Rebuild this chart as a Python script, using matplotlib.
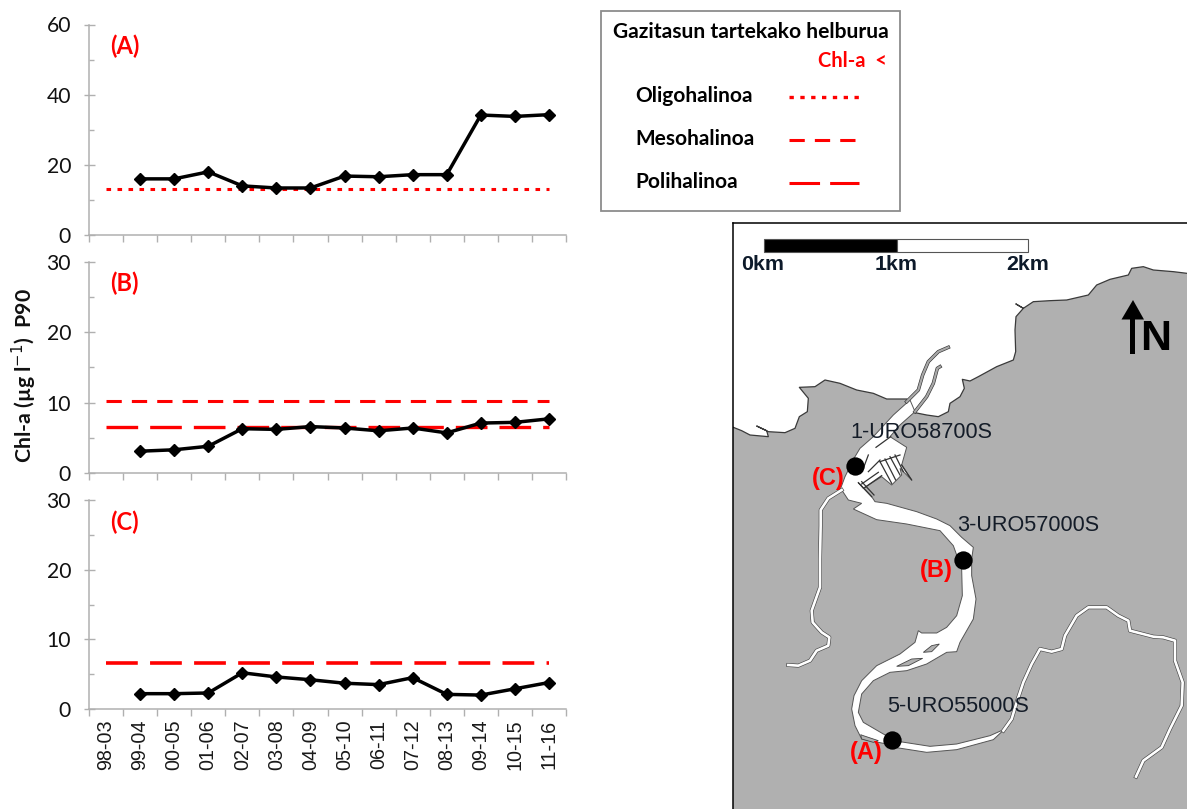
import numpy as np
import matplotlib
matplotlib.use("Agg")
import matplotlib.pyplot as plt
from matplotlib.patches import Polygon, Rectangle
from matplotlib.ticker import MultipleLocator
import matplotlib.patheffects as pe

W, H = 1187, 809
periods = ['98-03','99-04','00-05','01-06','02-07','03-08','04-09','05-10','06-11','07-12','08-13','09-14','10-15','11-16']
series_a = [np.nan,16,16,18,14,13.4,13.4,16.8,16.6,17.2,17.2,34.2,33.8,34.3]
series_b = [np.nan,3.1,3.3,3.8,6.3,6.2,6.6,6.4,6.0,6.4,5.7,7.1,7.2,7.7]
series_c = [np.nan,2.2,2.2,2.3,5.2,4.6,4.2,3.7,3.5,4.5,2.1,2.0,2.9,3.8]
oligo_limit = 13.2
meso_limit = 10.2
poli_limit = 6.6

# Map outlines (local grids, see z1 / z2 / z6)
coast_east = [(1371,160),(1330,155),(1270,150),(1240,140),(1205,145),(1195,165),(1140,178),(1100,195),(1075,225),
              (1010,240),(960,242),(910,245),(880,265),(858,252),(880,265),(858,290),(855,330),(857,395),(850,420),(800,440),
              (745,470),(720,483),(697,478),(703,505),(690,530),(660,550),(655,575),(625,590),(590,585),(555,578)]
coast_west = [(530,537),(470,537),(430,520),(380,510),(330,490),(285,480),(255,500),(208,502),(235,535),(232,575),
              (208,590),(195,625),(165,638),(115,635),(80,618),(110,632),(115,650),(60,645),(35,632),(10,622)]
bank_east_z2 = [(620,30),(660,50),(695,85),(730,115),(725,150),(725,200),(738,270),(730,330),(690,400),(680,428),(650,430),(590,465),
                (530,485),(480,490),(430,515),(395,555),(385,610),(400,640),(460,675),(510,698),(600,712),(680,705),(780,680),(825,660),
                (835,650),(790,692),(680,722),(590,730),(500,716),(460,703),(395,690),(375,650),(365,600),(372,560),(395,515),
                (440,470),(510,435),(555,400),(565,365),(575,372),(620,372),(650,355),(680,320),(697,260),(695,180),(670,110),
                (630,65),(530,45),(440,32),(370,0)]
est_top_z6 = [(330,180),(345,215),(300,255),(270,290),(320,322),(305,375),(335,420),(300,385),(305,405),(275,435),(245,410),
              (190,445),(175,428),(215,470),(225,485),(260,490),(350,515)]
est_west_z6 = [(185,490),(145,480),(122,445),(135,410),(165,350),(180,325),(220,290),(280,225)]
pier_lines_z6 = [[(185,432),(235,397)],[(195,442),(245,407)],[(205,395),(240,360)],[(205,345),(190,385)],
                 [(240,365),(275,430)],[(255,357),(287,420)],[(270,350),(300,405)],[(285,345),(310,395)],
                 [(240,365),(300,345)],[(175,428),(215,470)],[(185,425),(222,465)],[(228,322),(272,290)],[(305,375),(335,420)]]
river_main_z2 = [(820,665),(845,630),(860,580),(880,520),(905,465),(930,420),(965,428),(995,420),(1005,380),(1040,320),(1075,295),
                 (1130,295),(1165,320),(1195,335),(1200,365),(1270,383),(1300,385),(1335,395),(1335,455),(1358,520),(1355,590),
                 (1320,660),(1295,715),(1240,755),(1218,803)]
trib_z1 = [(335,810),(295,835),(272,870)]
trib_z2 = [(272,50),(270,150),(270,235),(245,305),(248,340),(275,370),(298,385),(295,410),(260,425),(240,455),(205,470),(175,468)]
jetty_a_z1 = [(530,545),(565,510),(578,465),(595,425),(625,395),(655,382)]
jetty_b_z1 = [(555,575),(590,530),(610,490),(622,445),(630,440)]
islands_z2 = [[(500,472),(545,450),(578,448),(535,470)],[(580,430),(605,410),(628,405),(605,428)],
              [(392,677),(400,680),(445,695),(430,700),(395,690)]]

def z1(p):
    a = np.array(p, float); return np.c_[730 + a[:,0]/3, 220 + a[:,1]/3]
def z2(p):
    a = np.array(p, float); return np.c_[730 + a[:,0]/3, 509 + a[:,1]/3]
def z6(p):
    a = np.array(p, float); return np.c_[800 + a[:,0]/3, 340 + a[:,1]/3]

plt.rcParams['font.family'] = ['Lato', 'DejaVu Sans']
fig = plt.figure(figsize=(W/100, H/100), dpi=100, facecolor='white')
px = 0.72
GREY = '#b0b0b0'
RED = '#ff0000'

def panel(top, bottom, ymax, major, minor, values, limits, tag, tag_y, show_x=False):
    ax = fig.add_axes([89/W, 1-bottom/H, (566-89)/W, (bottom-top)/H])
    x = np.arange(len(periods))
    for val, ls in limits:
        ax.plot(x, [val]*len(x), color=RED, lw=ls[0], ls=ls[1], dash_capstyle='butt', zorder=2)
    ax.plot(x, values, color='black', lw=2.5, marker='D', ms=6.2, zorder=3)
    ax.set_xlim(-0.5, len(periods)-0.5)
    ax.set_ylim(0, ymax)
    ax.yaxis.set_major_locator(MultipleLocator(major))
    ax.yaxis.set_minor_locator(MultipleLocator(minor))
    ax.set_xticks(np.arange(len(periods)+1)-0.5)
    ax.set_xticklabels([])
    for s in ['top','right']:
        ax.spines[s].set_visible(False)
    for s in ['left','bottom']:
        ax.spines[s].set_color(GREY); ax.spines[s].set_linewidth(1.1)
    ax.tick_params(axis='y', which='major', direction='inout', length=11*px, width=1, color=GREY, labelsize=15.2, pad=9, labelcolor='#111111')
    ax.tick_params(axis='y', which='minor', direction='in', length=4.5*px, width=1, color=GREY)
    ax.tick_params(axis='x', which='major', direction='out', length=7*px, width=1, color=GREY)
    ax.patch.set_alpha(0)
    if show_x:
        for i, lab in enumerate(periods):
            ax.annotate(lab, (i, 0), xytext=(0, -7.5), textcoords='offset points', rotation=90, ha='center', va='top',
                        fontsize=14.2, family='Liberation Sans', color='#1a1a1a', annotation_clip=False)
    ax.text(110/W, 1-tag_y/H, tag, transform=fig.transFigure, color=RED, fontweight='bold', fontsize=17, va='center', ha='left')
    return ax

panel(24.5, 235, 60, 20, 10, series_a, [(oligo_limit, (2.2, (0,(1.5,2.1))))], '(A)', 46)
panel(262, 473, 30, 10, 5, series_b, [(meso_limit, (2.2, (0,(5,3.3)))), (poli_limit, (2.4, (0,(9.5,3.6))))], '(B)', 283)
panel(500, 709, 30, 10, 5, series_c, [(poli_limit, (2.6, (0,(8.8,3.4))))], '(C)', 522, show_x=True)

fig.text(24/W, 1-376/H, 'Chl-a (µg l$^{-1}$)  P90', rotation=90, ha='center', va='center', fontsize=15.3, fontweight='bold', color='#111111')

# Overlay in picture coordinates: legend box
ov = fig.add_axes([0,0,1,1]); ov.set_xlim(0,W); ov.set_ylim(H,0); ov.axis('off'); ov.patch.set_alpha(0)
ov.add_patch(Rectangle((600.5,11), 299.5, 199.5, fc='white', ec='#8c8c8c', lw=1.3))
ov.text(751, 32, 'Gazitasun tartekako helburua', ha='center', va='center', fontsize=15.1, fontweight='bold', color='black')
ov.text(887, 60.5, 'Chl-a  <', ha='right', va='center', fontsize=14.5, fontweight='bold', color=RED)
for y, lab, lsty, lw in [(96,'Oligohalinoa',(0,(1.3,1.95)),2.4),(139,'Mesohalinoa',(0,(5,3.3)),2.2),(182,'Polihalinoa',(0,(10,3.3)),2.2)]:
    ov.text(635.5, y, lab, ha='left', va='center', fontsize=15, fontweight='bold', color='black')
    ov.plot([789,859],[y+1,y+1], color=RED, lw=lw, ls=lsty, dash_capstyle='butt')

# Map
m = fig.add_axes([733/W, 0, (W-733)/W, (H-222.5)/H])
m.set_xlim(733, W); m.set_ylim(H, 222.5); m.set_facecolor('#b0b0b0')
m.set_xticks([]); m.set_yticks([])
for s in ['right','bottom']:
    m.spines[s].set_visible(False)
for s in ['left','top']:
    m.spines[s].set_color('black'); m.spines[s].set_linewidth(1.1)
EDGE = '#3a3a3a'
ce, cw = z1(coast_east), z1(coast_west)
sea = np.vstack([[(W+2,220),(W+2,ce[0][1])], ce, cw, [(731,cw[-1][1]),(731,220)]])
m.add_patch(Polygon(sea, fc='white', ec='none', zorder=1))
m.plot(*ce.T, color=EDGE, lw=0.9, zorder=2); m.plot(*cw.T, color=EDGE, lw=0.9, zorder=2)
est = np.vstack([z6(est_top_z6), z2(bank_east_z2), z6(est_west_z6)])
m.add_patch(Polygon(est, fc='white', ec='#555555', lw=0.7, zorder=3))
for p in pier_lines_z6:
    m.plot(*z6(p).T, color='#333333', lw=0.9, zorder=3.2)
for isl in islands_z2:
    m.add_patch(Polygon(z2(isl), fc='#b0b0b0', ec='#444444', lw=0.6, zorder=3.3))
for path, wid in [(z2(river_main_z2),1.9),(np.vstack([z1(trib_z1), z2(trib_z2)]),1.9)]:
    m.plot(*path.T, color='white', lw=wid, zorder=3, solid_joinstyle='round',
           path_effects=[pe.Stroke(linewidth=wid+0.9, foreground='#444444'), pe.Normal()])
for j in [jetty_a_z1, jetty_b_z1]:
    m.plot(*z1(j).T, color='#a8a8a8', lw=1.6, zorder=3.4,
           path_effects=[pe.Stroke(linewidth=2.5, foreground='#333333'), pe.Normal()])

# scale bar
m.add_patch(Rectangle((764,238.5), 133, 13.5, fc='black', ec='#555555', lw=0.8, zorder=5))
m.add_patch(Rectangle((897,238.5), 131, 13.5, fc='white', ec='#555555', lw=0.8, zorder=5))
for x, lab in [(763,'0km'),(896,'1km'),(1028,'2km')]:
    m.text(x, 264, lab, ha='center', va='center', fontsize=15.4, fontweight='bold', family='Liberation Sans', color='#0d1a2a', zorder=6)

# north arrow
m.add_patch(Rectangle((1130,316), 5, 38, fc='black', ec='none', zorder=6))
m.add_patch(Polygon([(1121.5,319.5),(1144,319.5),(1133,300)], fc='black', ec='none', zorder=6))
m.text(1156, 339.5, 'N', ha='center', va='center', fontsize=31, fontweight='bold', family='Liberation Sans', color='black', zorder=6)

# stations
for x, y in [(855,465.7),(963,560),(892,740)]:
    m.plot([x],[y], 'o', color='black', ms=13.2, mew=0, zorder=7)
for x, y, lab in [(850,432.5,'1-URO58700S'),(957,525.5,'3-URO57000S'),(887,706.5,'5-URO55000S')]:
    m.text(x, y, lab, ha='left', va='center', fontsize=15.6, family='Liberation Sans', color='#141c28', zorder=8)
for x, y, lab in [(828,478,'(C)'),(936,571,'(B)'),(866,752,'(A)')]:
    m.text(x, y, lab, ha='center', va='center', fontsize=17, fontweight='bold', family='Liberation Sans', color=RED, zorder=8)

fig.savefig('out.png', dpi=100)
